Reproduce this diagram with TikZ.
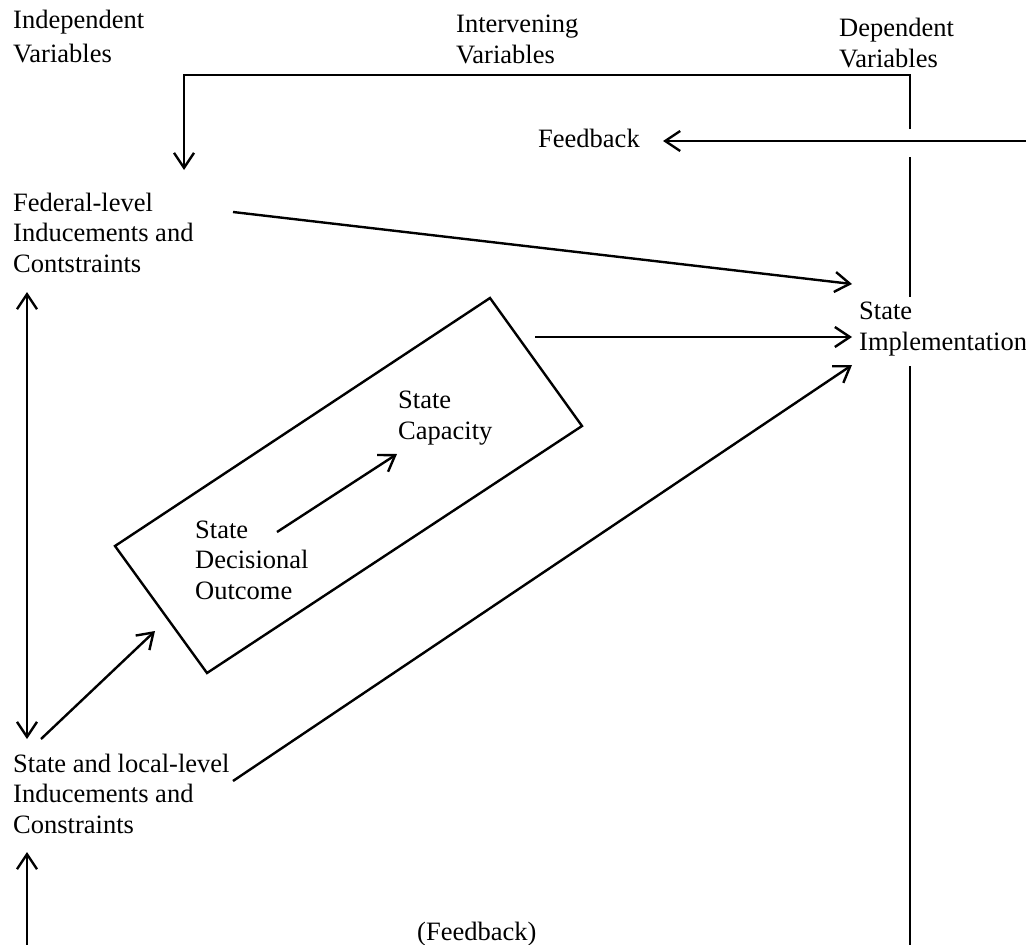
\documentclass[tikz,border=0pt]{standalone}
\usepackage{fontspec}
\setmainfont{Liberation Serif}
\usetikzlibrary{arrows.meta}
\begin{document}
\begin{tikzpicture}[x=1pt,y=-1pt,
  lbl/.style={anchor=base west,inner sep=0pt,align=left,font=\fontsize{26.5}{30.5}\selectfont},
  ln/.style={line width=2.4pt},
  tip/.style={},
  arr/.style={line width=2.4pt,-{Straight Barb[length=15pt,width=20pt,line width=2.4pt]}},
  darr/.style={line width=2.4pt,{Straight Barb[length=15pt,width=20pt,line width=2.4pt]}-{Straight Barb[length=15pt,width=20pt,line width=2.4pt]}}]
\useasboundingbox (0,0) rectangle (1026,945);
% texts (anchored at the baseline of the last line)
\node[lbl] (indep) at (13,62) {Independent\\[3pt]Variables};
\node[lbl] (interv) at (456,63) {Intervening\\Variables};
\node[lbl] (dep) at (839,67) {Dependent\\Variables};
\node[lbl] (fb) at (538,147) {Feedback};
\node[lbl] (fed) at (13,272) {Federal-level\\Inducements and\\Contstraints};
\node[lbl] (impl) at (859,350) {State\\Implementation};
\node[lbl] (cap) at (398,439) {State\\Capacity};
\node[lbl] (dec) at (195,599) {State\\Decisional\\Outcome};
\node[lbl] (loc) at (13,833) {State and local-level\\Inducements and\\Constraints};
\node[lbl] (fb2) at (417,940) {(Feedback)};
% coordinates
\coordinate (b1) at (115,546);
\coordinate (b2) at (490,298);
\coordinate (b3) at (582,426);
\coordinate (b4) at (207,673);
\coordinate (topR) at (910,129);
\coordinate (cornR) at (910,75);
\coordinate (cornL) at (184,75);
\coordinate (fedTop) at (184,170);
\coordinate (fbR) at (1030,141);
\coordinate (fbL) at (663,141);
\coordinate (v1a) at (910,157);
\coordinate (v1b) at (910,297);
\coordinate (v2a) at (910,366);
\coordinate (v2b) at (910,950);
\coordinate (fedOut) at (233,212);
\coordinate (implA) at (852,284);
\coordinate (boxOut) at (535,337);
\coordinate (implB) at (852,337);
\coordinate (locOut) at (233,781);
\coordinate (implC) at (852,365);
\coordinate (lvTop) at (27,292);
\coordinate (lvBot) at (27,739);
\coordinate (botA) at (27,950);
\coordinate (botB) at (27,852);
\coordinate (locUp) at (41,739);
\coordinate (boxIn) at (155,631);
\coordinate (decOut) at (277,532);
\coordinate (capIn) at (397,454);
% drawing
\draw[ln,line join=miter] (b1) -- (b2) -- (b3) -- (b4) -- cycle;
\draw[arr,line join=miter] (topR) -- (cornR) -- (cornL) -- (fedTop);
\draw[arr] (fbR) -- (fbL);
\draw[ln] (v1a) -- (v1b);
\draw[ln] (v2a) -- (v2b);
\draw[arr] (fedOut) -- (implA);
\draw[arr] (boxOut) -- (implB);
\draw[arr] (locOut) -- (implC);
\draw[darr] (lvTop) -- (lvBot);
\draw[arr] (botA) -- (botB);
\draw[arr] (locUp) -- (boxIn);
\draw[arr] (decOut) -- (capIn);
\end{tikzpicture}
\end{document}
